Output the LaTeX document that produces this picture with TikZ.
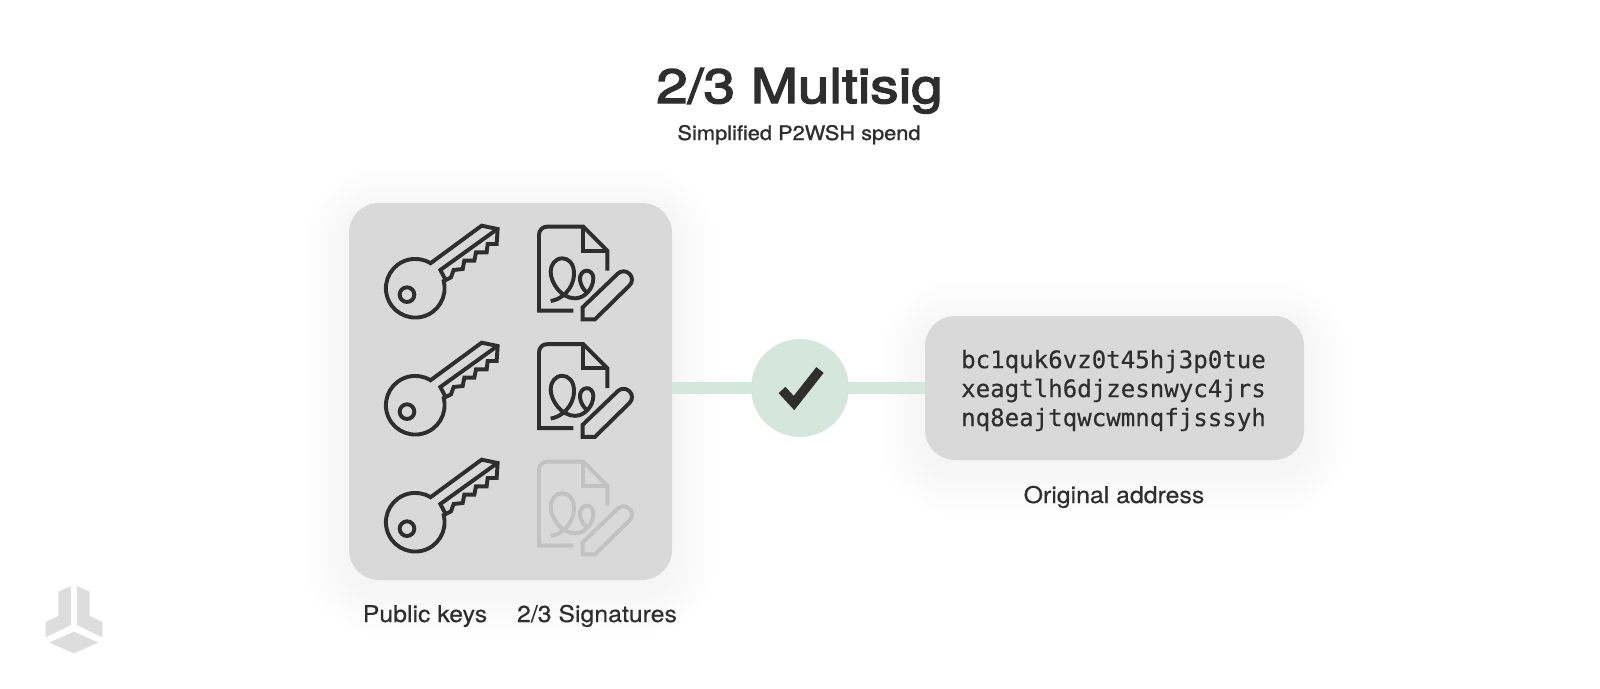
\documentclass[tikz,border=0pt]{standalone}
\usepackage{fontspec}
\setmainfont[FakeStretch=1.08,FakeBold=0.4]{TeX Gyre Heros}
\newfontfamily\titlefont[FakeStretch=1.18,FakeBold=3]{TeX Gyre Heros}
\newfontfamily\subfont[FakeStretch=1.09,FakeBold=1.2]{TeX Gyre Heros}
\setmonofont[FakeBold=0.4]{DejaVu Sans Mono}
\definecolor{ink}{HTML}{2E2E2E}
\definecolor{panelgrey}{HTML}{D9D9D9}
\definecolor{fadeink}{HTML}{C2C2C2}
\definecolor{okgreen}{HTML}{D5E7DC}
\definecolor{logogrey}{HTML}{DDDDDD}
\tikzset{
  iconline/.style={line width=3.9pt},
  card/.style={fill=panelgrey,rounded corners=30pt,inner sep=0pt,minimum width=#1},
  softshadow/.style={fill=black,fill opacity=0.005},
  bar/.style={draw=okgreen,line width=12pt},
  lbl/.style={font=\fontsize{23}{23}\selectfont,text=ink,anchor=base,inner sep=0pt},
  pics/keyicon/.style={code={
    \begin{scope}[x=0.3333pt,y=-0.3333pt]
    \draw[iconline] (188,183) arc[start angle=-14.3,end angle=301.5,radius=88]
      -- (302,17) -- (350,27) -- (347,72) -- (320,72) -- (317,97) -- (285,97) -- (280,122)
      -- (250,122) -- (245,147) -- (218,150) -- (210,172) -- cycle;
    \draw[iconline] (345,30) -- (178,150) -- (195,182);
    \draw[iconline] (78,224) circle[radius=22];
    \end{scope}}},
  pics/docicon/.style={code={
    \begin{scope}[x=0.3333pt,y=-0.3333pt]
    \draw[iconline] (130,272) -- (27,272) [rounded corners=8pt] -- (27,20) [sharp corners] -- (160,20) -- (232,92) -- (232,152);
    \draw[iconline] (160,20) -- (160,92) -- (232,92);
    \draw[iconline] (158,298) -- (158,262) [rounded corners=8pt] -- (281,144) -- (316,179) [sharp corners] -- (195,298) -- cycle;
    \draw[iconline] (62,243) .. controls (90,240) and (132,210) .. (132,160)
      .. controls (132,130) and (115,115) .. (97,115)
      .. controls (75,115) and (62,135) .. (62,155)
      .. controls (62,190) and (95,235) .. (135,235)
      .. controls (165,235) and (190,205) .. (190,175)
      .. controls (190,160) and (180,152) .. (170,152)
      .. controls (158,152) and (148,165) .. (150,180)
      .. controls (152,195) and (160,210) .. (172,218);
    \end{scope}}}
}
\begin{document}
\begin{tikzpicture}[x=1pt,y=-1pt]
\useasboundingbox (0,0) rectangle (1600,688);
\fill[white] (0,0) rectangle (1600,688);
% soft shadows
\foreach \r in {5,10,...,45}{
  \pgfmathsetmacro{\cr}{30+\r}
  \fill[softshadow,rounded corners=\cr pt] (349-\r,213-\r) rectangle (671+\r,590+\r);
  \fill[softshadow,rounded corners=\cr pt] (925-\r,326-\r) rectangle (1304+\r,470+\r);
}
% title
\node[font=\fontsize{48}{48}\selectfont\titlefont,text=ink,anchor=base,inner sep=0pt] (title) at (799.5,103) {2/3 Multisig};
\node[font=\fontsize{20}{20}\selectfont\subfont,text=ink,anchor=base,inner sep=0pt] (subtitle) at (799,140) {Simplified P2WSH spend};
% cards
\node[card=323pt,minimum height=377pt] (panel) at (510.5,391.5) {};
\node[card=379pt,minimum height=144pt] (addr) at (1114.5,388) {};
\node[circle,fill=okgreen,minimum size=98pt,inner sep=0pt] (check) at (800,388) {};
\draw[bar] (panel.east |- check) -- (check);
\draw[bar] (check) -- (check -| addr.west);
\coordinate (tickA) at (782,390);
\coordinate (tickB) at (794,403);
\coordinate (tickC) at (820,370);
\draw[ink,line width=9.3pt] (tickA) -- (tickB) -- (tickC);
% icons
\pic[color=ink] (keya) at (381,220) {keyicon};
\pic[color=ink] (keyb) at (381,337) {keyicon};
\pic[color=ink] (keyc) at (381,454) {keyicon};
\pic[color=ink] (doca) at (530,220) {docicon};
\pic[color=ink] (docb) at (530,337.5) {docicon};
\pic[color=fadeink] (docc) at (530,455) {docicon};
% address
\node[font=\fontsize{24.1}{29}\selectfont\ttfamily,text=ink,align=left,inner sep=0pt] (addrtext) at (1113.5,390.5)
  {bc1quk6vz0t45hj3p0tue\\xeagtlh6djzesnwyc4jrs\\nq8eajtqwcwmnqfjsssyh};
\node[lbl] (addrlabel) at (1114,503) {Original address};
\node[lbl] (keylabel) at (425,622) {Public keys};
\node[lbl] (siglabel) at (597,622) {2/3 Signatures};
% logo
\begin{scope}[shift={(30,560)},x=0.3333pt,y=-0.3333pt]
\fill[logogrey] (123,78) -- (85,95) -- (85,168) -- (47,186) -- (47,232) -- (123,195) -- cycle;
\fill[logogrey] (141,78) -- (179,95) -- (179,168) -- (217,186) -- (217,232) -- (141,195) -- cycle;
\fill[logogrey] (132,215) -- (205,248) -- (132,280) -- (58,248) -- cycle;
\end{scope}
\end{tikzpicture}
\end{document}
